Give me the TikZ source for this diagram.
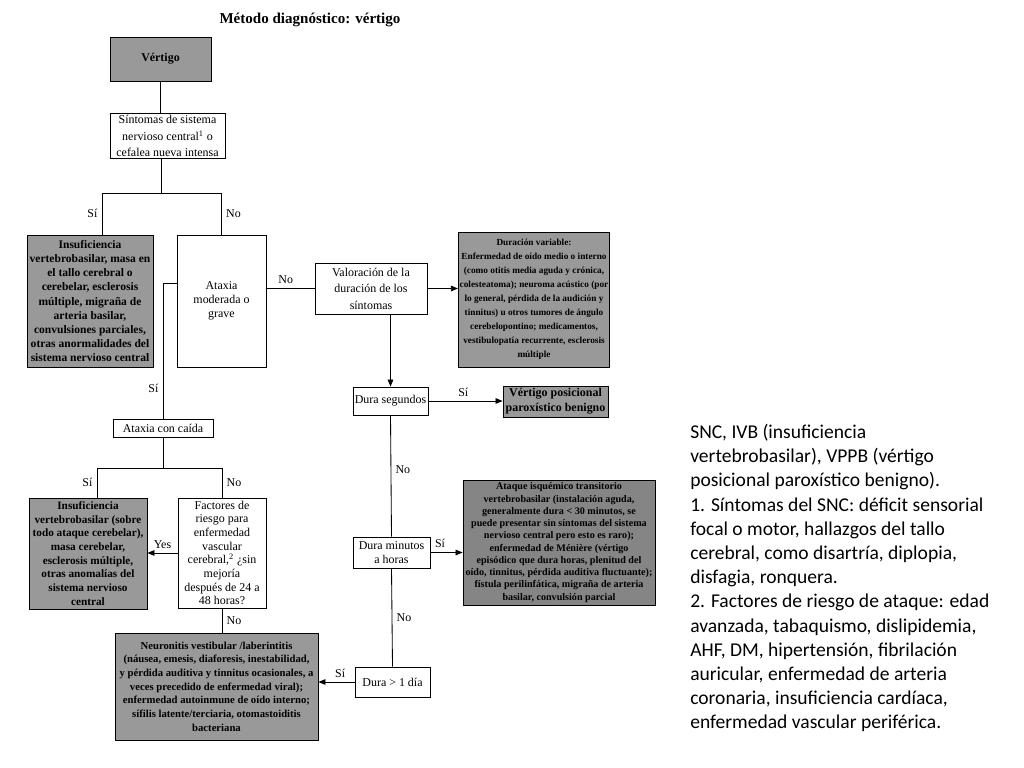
\documentclass[tikz,border=0pt]{standalone}
\usepackage{fontspec}
\setmainfont{Liberation Serif}
\newfontfamily\notefont{Carlito}
\usetikzlibrary{arrows.meta}
\definecolor{scangray}{gray}{0.6}
\definecolor{scandark}{gray}{0.52}
\newcommand{\pxu}{0.025cm}
\tikzset{block/.style = {draw, fill=white, line width=0.6pt, rectangle, align=center, inner sep=1pt, font=\fontsize{8.5}{11.7}\selectfont},
         shade/.style = {block, fill=scangray, font=\bfseries\fontsize{8.5}{10}\selectfont},
         lbl/.style = {font=\fontsize{8.5}{10}\selectfont, inner sep=3pt},
         link/.style = {line width=0.6pt},
         arr/.style = {-{Triangle[length=5pt,width=4pt]}}}

\begin{document}
\begin{tikzpicture}[x=0.025cm, y=-0.025cm]
        \useasboundingbox (0,0) rectangle (1024,768);

        \node[font=\bfseries\fontsize{10.7}{12}\selectfont] (title) at (310,20) {Método diagnóstico: vértigo};

        \node[shade, minimum width={101*\pxu}, minimum height={44*\pxu}] (vert) at (160.5,59) {Vértigo};
        \node[block, minimum width={115*\pxu}, minimum height={45*\pxu}] (sint) at (167.5,136) {Síntomas de sistema\\ nervioso central\textsuperscript{1} o\\ cefalea nueva intensa};
        \node[shade, minimum width={126*\pxu}, minimum height={132*\pxu}, font=\bfseries\fontsize{8.2}{10}\selectfont] (ivb) at (90,301) {Insuficiencia\\ vertebrobasilar, masa en\\ el tallo cerebral o\\ cerebelar, esclerosis\\ múltiple, migraña de\\ arteria basilar,\\ convulsiones parciales,\\ otras anormalidades del\\ sistema nervioso central};
        \node[block, minimum width={89*\pxu}, minimum height={132*\pxu}, font=\fontsize{8.5}{10}\selectfont] (atx) at (221.5,301) {Ataxia\\ moderada o\\ grave};
        \node[block, minimum width={112*\pxu}, minimum height={51*\pxu}] (val) at (371,288.5) {Valoración de la\\ duración de los\\ síntomas};
        \node[shade, minimum width={144*\pxu}, minimum height={135*\pxu}, font=\bfseries\fontsize{6.6}{10}\selectfont] (dur) at (534,299.5) {Duración variable:\\ Enfermedad de oído medio o interno\\ (como otitis media aguda y crónica,\\ colesteatoma); neuroma acústico (por\\ lo general, pérdida de la audición y\\ tinnitus) u otros tumores de ángulo\\ cerebelopontino; medicamentos,\\ vestibulopatía recurrente, esclerosis\\ múltiple};
        \node[block, minimum width={75*\pxu}, minimum height={28*\pxu}] (seg) at (390.5,401) {Dura segundos};
        \node[shade, minimum width={105*\pxu}, minimum height={31*\pxu}, font=\bfseries\fontsize{8.5}{10.7}\selectfont] (vppb) at (555.5,401.5) {Vértigo posicional\\ paroxístico benigno};
        \node[block, minimum width={77*\pxu}, minimum height={31*\pxu}, font=\fontsize{8.5}{10}\selectfont] (min) at (391.5,552.5) {Dura minutos\\ a horas};
        \node[shade, fill=scandark, minimum width={192*\pxu}, minimum height={125*\pxu}, font=\bfseries\fontsize{7.2}{8.7}\selectfont] (ataq) at (559,542.5) {Ataque isquémico transitorio\\ vertebrobasilar (instalación aguda,\\ generalmente dura < 30 minutos, se\\ puede presentar sin síntomas del sistema\\ nervioso central pero esto es raro);\\ enfermedad de Ménière (vértigo\\ episódico que dura horas, plenitud del\\ oído, tinnitus, pérdida auditiva fluctuante);\\ fístula perilinfática, migraña de arteria\\ basilar, convulsión parcial};
        \node[block, minimum width={75*\pxu}, minimum height={30*\pxu}] (dia) at (392.5,682) {Dura > 1 día};
        \node[shade, minimum width={203*\pxu}, minimum height={107*\pxu}, font=\bfseries\fontsize{7.6}{9.7}\selectfont] (neu) at (216.5,686.5) {Neuronitis vestibular /laberintitis\\ (náusea, emesis, diaforesis, inestabilidad,\\ y pérdida auditiva y tinnitus ocasionales, a\\ veces precedido de enfermedad viral);\\ enfermedad autoinmune de oído interno;\\ sífilis latente/terciaria, otomastoiditis\\ bacteriana};
        \node[block, minimum width={100*\pxu}, minimum height={18*\pxu}] (caida) at (163,428) {Ataxia con caída};
        \node[shade, minimum width={118*\pxu}, minimum height={111*\pxu}, font=\bfseries\fontsize{8}{9.7}\selectfont] (ivbb) at (88,553.5) {Insuficiencia\\ vertebrobasilar (sobre\\ todo ataque cerebelar),\\ masa cerebelar,\\ esclerosis múltiple,\\ otras anomalías del\\ sistema nervioso\\ central};
        \node[block, minimum width={88*\pxu}, minimum height={110*\pxu}, font=\fontsize{8.5}{9.7}\selectfont] (fr) at (222,553) {Factores de\\ riesgo para\\ enfermedad\\ vascular\\ cerebral,\textsuperscript{2} ¿sin\\ mejoría\\ después de 24 a\\ 48 horas?};

        \coordinate (j1) at (161,193);
        \coordinate (j2) at (163,468);

        \draw[link] (vert.south) -- (vert.south |- sint.north);
        \draw[link] (sint.south -| j1) -- (j1);
        \draw[link] (j1) -| node[lbl, pos=0.75, left]{Sí} ([xshift={12*\pxu}]ivb.north);
        \draw[link] (j1) -| node[lbl, pos=0.75, right]{No} (atx.north);
        \draw[link] ([yshift={18*\pxu}]atx.west) -| node[lbl, pos=0.89, left]{Sí} (caida.north);
        \draw[link] (val.west -| atx.east) -- node[lbl, pos=0.4, above]{No} (val.west);
        \draw[link, arr] (val.east) -- (val.east -| dur.west);
        \draw[link, arr] (val.south -| seg.north) -- (seg.north);
        \draw[link, arr] (seg.east) -- node[lbl, pos=0.47, above]{Sí} (seg.east -| vppb.west);
        \draw[link] (seg.south) -- node[lbl, pos=0.45, right]{No} (min.north);
        \draw[link, arr] (min.east) -- node[lbl, pos=0.3, above]{Sí} (min.east -| ataq.west);
        \draw[link] (min.south) -- node[lbl, right]{No} (dia.north);
        \draw[link, arr] (dia.west) -- node[lbl, pos=0.4, above]{Sí} (dia.west -| neu.east);
        \draw[link] (caida.south) -- (j2);
        \draw[link] (j2) -| node[lbl, pos=0.75, left]{Sí} ([xshift={9*\pxu}]ivbb.north);
        \draw[link] (j2) -| node[lbl, pos=0.75, right]{No} (fr.north);
        \draw[link, arr] (fr.west) -- node[lbl, above]{Yes} (fr.west -| ivbb.east);
        \draw[link] (fr.south) -- node[lbl, right]{No} (fr.south |- neu.north);

        \node[font=\notefont\fontsize{13.9}{17.2}\selectfont, align=left, anchor=north west, inner sep=0pt] (note) at (690,424) {SNC, IVB (insuficiencia\\ vertebrobasilar), VPPB (vértigo\\ posicional paroxístico benigno).\\ 1. Síntomas del SNC: déficit sensorial\\ focal o motor, hallazgos del tallo\\ cerebral, como disartría, diplopia,\\ disfagia, ronquera.\\ 2. Factores de riesgo de ataque: edad\\ avanzada, tabaquismo, dislipidemia,\\ AHF, DM, hipertensión, fibrilación\\ auricular, enfermedad de arteria\\ coronaria, insuficiencia cardíaca,\\ enfermedad vascular periférica.};
    \end{tikzpicture}
\end{document}
